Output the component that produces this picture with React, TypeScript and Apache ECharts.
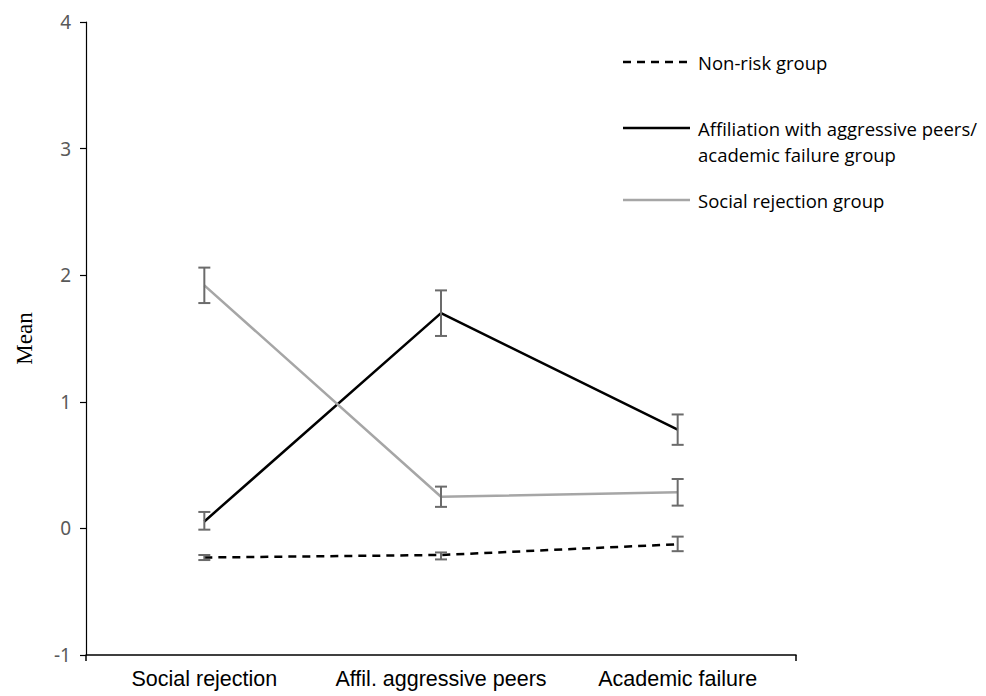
import React, { useEffect, useRef } from "react";
import * as echarts from "echarts";

const categories = ["Social rejection", "Affil. aggressive peers", "Academic failure"];
const seriesNames = [
  "Non-risk group",
  "Affiliation with aggressive peers/\nacademic failure group",
  "Social rejection group",
];
const nonRiskMean = [-0.23, -0.21, -0.125];
const nonRiskLow = [-0.25, -0.245, -0.18];
const nonRiskHigh = [-0.21, -0.19, -0.065];
const affilMean = [0.055, 1.7, 0.78];
const affilLow = [-0.01, 1.52, 0.66];
const affilHigh = [0.13, 1.88, 0.9];
const socialMean = [1.92, 0.25, 0.285];
const socialLow = [1.78, 0.17, 0.18];
const socialHigh = [2.06, 0.33, 0.39];
const yTicks = [-1, 0, 1, 2, 3, 4];

function errorSeries(low: number[], high: number[]) {
  return {
    type: "custom",
    xAxisIndex: 0,
    yAxisIndex: 0,
    z: 5,
    data: low.map((l, i) => [i, l, high[i]]),
    renderItem: (params: any, api: any) => {
      const x = api.value(0);
      const lo = api.coord([x, api.value(1)]);
      const hi = api.coord([x, api.value(2)]);
      const hw = 6;
      const style = { stroke: "#6b6b6b", lineWidth: 2 };
      return {
        type: "group",
        children: [
          { type: "line", shape: { x1: lo[0], y1: lo[1], x2: hi[0], y2: hi[1] }, style },
          { type: "line", shape: { x1: lo[0] - hw, y1: lo[1], x2: lo[0] + hw, y2: lo[1] }, style },
          { type: "line", shape: { x1: hi[0] - hw, y1: hi[1], x2: hi[0] + hw, y2: hi[1] }, style },
        ],
      };
    },
  };
}

export default function App() {
  const ref = useRef<HTMLDivElement>(null);
  useEffect(() => {
    if (!ref.current) return;
    const chart = echarts.init(ref.current, null, { renderer: "svg" });
    const legendText = {
      fontFamily: "'Open Sans', 'Noto Sans', sans-serif",
      fontSize: 18.5,
      fill: "#000",
    };
    chart.setOption({
      animation: false,
      backgroundColor: "#fff",
      grid: { left: 86, right: 190, top: 22, bottom: 41, containLabel: false },
      xAxis: [
        {
          type: "category",
          data: categories,
          boundaryGap: true,
          axisLine: { onZero: false, lineStyle: { color: "#000", width: 1.5 } },
          axisTick: { alignWithLabel: true, length: 6, lineStyle: { color: "#000", width: 1.5 } },
          axisLabel: {
            interval: 0,
            color: "#000",
            fontFamily: "'Liberation Sans', Arial, sans-serif",
            fontSize: 21.5,
            margin: 13,
          },
        },
        {
          type: "value",
          position: "bottom",
          min: 0,
          max: 3,
          interval: 3,
          axisLine: { show: false, onZero: false },
          axisTick: { show: true, length: 6, lineStyle: { color: "#000", width: 1.5 } },
          axisLabel: { show: false },
          splitLine: { show: false },
        },
      ],
      yAxis: {
        type: "value",
        min: -1,
        max: 4,
        interval: 1,
        name: "Mean",
        nameLocation: "middle",
        nameGap: 50,
        nameRotate: 90,
        nameTextStyle: {
          color: "#000",
          fontFamily: "'Liberation Serif', 'Times New Roman', serif",
          fontSize: 23,
        },
        axisLine: { show: true, onZero: false, lineStyle: { color: "#000", width: 1.2 } },
        axisTick: { show: true, length: 6, lineStyle: { color: "#000", width: 1.2 } },
        splitLine: { show: false },
        axisLabel: {
          color: "#595959",
          fontFamily: "'Noto Sans', sans-serif",
          fontSize: 19,
          margin: 15,
          formatter: (v: number) => (yTicks.includes(v) ? String(v) : ""),
        },
      },
      series: [
        {
          name: seriesNames[0],
          type: "line",
          data: nonRiskMean,
          symbol: "none",
          lineStyle: { color: "#000", width: 2.5, type: [8, 6] },
          z: 3,
        },
        {
          name: seriesNames[1],
          type: "line",
          data: affilMean,
          symbol: "none",
          lineStyle: { color: "#000", width: 2.5 },
          z: 3,
        },
        {
          name: seriesNames[2],
          type: "line",
          data: socialMean,
          symbol: "none",
          lineStyle: { color: "#a6a6a6", width: 2.5 },
          z: 3,
        },
        errorSeries(nonRiskLow, nonRiskHigh),
        errorSeries(affilLow, affilHigh),
        errorSeries(socialLow, socialHigh),
      ],
      graphic: [
        { type: "line", shape: { x1: 623, y1: 62, x2: 690, y2: 62 }, style: { stroke: "#000", lineWidth: 2.5, lineDash: [8, 6] } },
        { type: "text", x: 698, y: 62, style: { ...legendText, text: seriesNames[0], verticalAlign: "middle" } },
        { type: "line", shape: { x1: 623, y1: 128, x2: 690, y2: 128 }, style: { stroke: "#000", lineWidth: 2.5 } },
        { type: "text", x: 698, y: 128, style: { ...legendText, text: "Affiliation with aggressive peers/", verticalAlign: "middle" } },
        { type: "text", x: 698, y: 154, style: { ...legendText, text: "academic failure group", verticalAlign: "middle" } },
        { type: "line", shape: { x1: 623, y1: 200, x2: 690, y2: 200 }, style: { stroke: "#a6a6a6", lineWidth: 2.5 } },
        { type: "text", x: 698, y: 200, style: { ...legendText, text: seriesNames[2], verticalAlign: "middle" } },
      ],
    });
    return () => chart.dispose();
  }, []);
  return <div ref={ref} style={{ width: 986, height: 696, position: "absolute", left: 0, top: 0 }} />;
}
